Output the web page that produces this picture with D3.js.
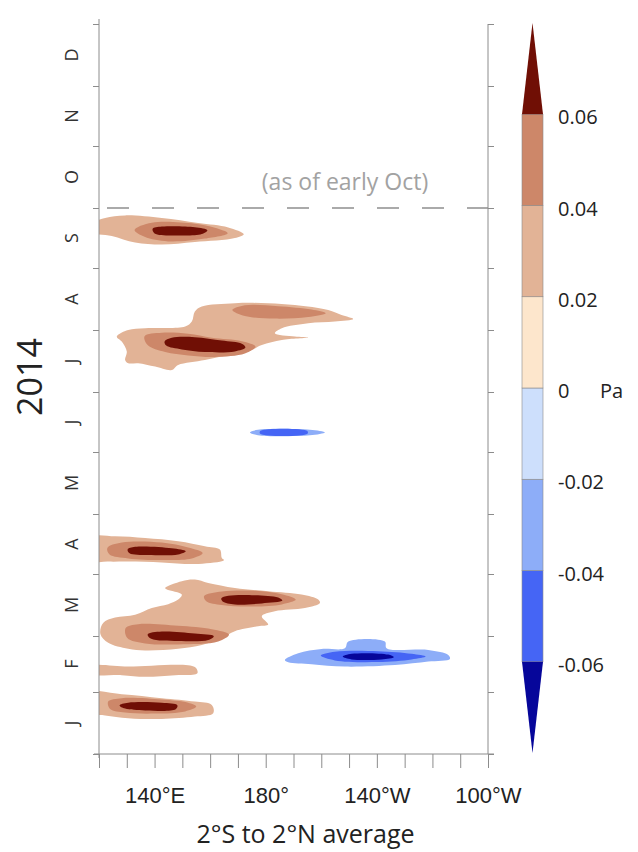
<!DOCTYPE html>
<html>
<head>
<meta charset="utf-8">
<script src="https://cdn.jsdelivr.net/npm/d3@7"></script>
<style>
  body { margin: 0; background: #fff; }
  svg { display: block; font-family: "Open Sans", "Noto Sans", sans-serif; }
</style>
</head>
<body>
<svg id="chart" width="638" height="852"></svg>
<script>
// months shown up the left side, longitudes along the bottom (degrees east)
var monthNames = ["J", "F", "M", "A", "M", "J", "J", "A", "S", "O", "N", "D"];
var lonTicks = d3.range(120, 261, 10);
var lonNames = {140: "140°E", 180: "180°", 220: "140°W", 260: "100°W"};

// colour bar: contour levels (Pa) and the colour of each interval
var levels = [-0.06, -0.04, -0.02, 0, 0.02, 0.04, 0.06];
var levelColors = ["#06069a", "#4565f5", "#8dadf8", "#cddffc",
                   "#fde6cc", "#e2b396", "#cd8769", "#700f05"];

// wind stress anomaly contours, points are [longitude °E, day of 2014]
var janBurst = [
  {level: 0.02, pts: [[116, 30.6], [128.2, 29.9], [142.6, 27.9], [154.5, 26.2], [160.6, 24.5], [161.1, 20.4], [154.5, 18.7], [142.6, 17.5], [130.5, 17.9], [122.2, 19.3], [116, 20.6]]},
  {level: 0.04, pts: [[123.3, 26.2], [128.2, 27.9], [142.6, 27.2], [152.1, 25.6], [155, 23.7], [151, 21.3], [140.2, 20.2], [129.4, 20.7], [124, 22.5]]},
  {level: 0.06, pts: [[127.4, 24.3], [130.5, 25.6], [142.6, 25.6], [148.2, 24.4], [147.6, 22.4], [136.6, 21.8], [129.4, 22.7]]}
];
var febStrip = [
  {level: 0.02, pts: [[116, 43.8], [130.5, 43.8], [154.5, 43.5], [155.4, 40.4], [147.4, 39.4], [136.6, 38.6], [128.2, 39.4], [116, 40.2]]}
];
var febMarBurst = [
  {level: 0.02, pts: [[143.8, 83], [149.8, 86.4], [154.5, 87.2], [159.3, 85.5], [168.9, 83], [180.9, 81.4], [192.9, 79.7], [198.9, 77.2], [199.5, 75.5], [194.1, 73], [183.3, 71.4], [178.6, 68.9], [180.9, 64.7], [177.3, 63.9], [168.9, 61.4], [164.2, 58], [157, 54.5], [148.5, 52.6], [136.6, 51.8], [130.5, 52.6], [123.3, 55.6], [120.5, 60], [121.5, 65.5], [125.8, 68.2], [133, 69.6], [139, 73], [144.9, 74.9], [148.5, 77.2], [149.8, 79.7], [144.4, 82.2]]},
  {level: 0.04, pts: [[157.8, 78.9], [164.2, 81.2], [176.1, 81.6], [185.8, 79.9], [190.8, 77.2], [185.8, 74.8], [173.7, 73.7], [164.2, 74.5], [158.6, 76.4]]},
  {level: 0.04, pts: [[129.6, 63], [134.1, 64.9], [148.5, 64.1], [160.6, 62.4], [166.8, 59.7], [162.9, 56.2], [148.5, 54.8], [136.6, 55.3], [130.2, 58]]},
  {level: 0.06, pts: [[164, 77.8], [166.5, 79.1], [176.1, 79.4], [184.5, 78.2], [186, 76.7], [178.6, 75.3], [168.9, 74.8], [164.5, 76.3]]},
  {level: 0.06, pts: [[137.5, 59.8], [142.6, 61.2], [154.5, 60.2], [161.3, 58.9], [159.3, 57], [148.5, 56.5], [138.8, 57.6]]}
];
var aprBurst = [
  {level: 0.02, pts: [[116, 108.2], [125.8, 108.9], [136.6, 108], [148.5, 106.4], [158.1, 103.9], [163.5, 102.2], [164.2, 98], [165, 97], [164.2, 96.4], [154.5, 95], [142.6, 95.8], [130.5, 96.2], [123.3, 96.2], [116, 96.8]]},
  {level: 0.04, pts: [[123, 103], [128.2, 105.7], [142.6, 105.7], [152.1, 103.2], [157.3, 100.5], [153.4, 97.8], [142.6, 97], [130.5, 97.8], [123.8, 99.7]]},
  {level: 0.06, pts: [[130.3, 102.3], [133, 103.6], [146.2, 102.9], [151.2, 101.4], [148.5, 99.8], [137.7, 99.5], [131, 100.4]]}
];
var junBurst = [
  {level: 0.02, pts: [[126.4, 208.7], [130.5, 212], [136.6, 212.9], [151, 213.7], [153.4, 216.2], [154.5, 221.2], [157, 223.7], [168.9, 225.4], [180.9, 225.4], [190.5, 224.5], [202.5, 222], [207.3, 219.5], [211.5, 217.5], [204.9, 216.2], [195.3, 215.4], [185.8, 212.9], [183.3, 210.4], [190.5, 208.7], [195.3, 208.2], [185.8, 207], [178.6, 204.5], [173.7, 201.2], [166.5, 199.5], [158.1, 197], [148.5, 194.5], [146.2, 192], [140.2, 193.7], [134.1, 195.4], [130.5, 195.4], [129.4, 197], [130, 201.2], [128.2, 206.2]]},
  {level: 0.04, pts: [[136.4, 208.9], [142.6, 210.6], [152.1, 210.1], [160.6, 208.1], [171.4, 206.4], [176.3, 203.7], [172.5, 200.2], [161.7, 198.5], [152.1, 199.3], [143.8, 201], [137.5, 204.5]]},
  {level: 0.04, pts: [[168, 222], [172.5, 224.4], [184.5, 223.9], [196.5, 222.2], [201.6, 220.4], [195.3, 218.5], [183.3, 217.7], [172.5, 219]]},
  {level: 0.06, pts: [[143.6, 206.3], [146.2, 208.1], [154.5, 208.4], [164.2, 206.7], [171.4, 205.1], [172.7, 203.2], [168.9, 201.3], [158.1, 201], [149.8, 202.3], [144.2, 204.2]]}
];
var sepBurst = [
  {level: 0.02, pts: [[117, 264.8], [122.2, 268], [129.4, 269.3], [142.6, 268], [155.7, 265.5], [166.5, 263.3], [172.1, 259.9], [168.9, 258], [154.5, 256], [142.6, 254.7], [133, 255.7], [124.6, 259], [117, 261]]},
  {level: 0.04, pts: [[132.8, 262], [139, 265.6], [154.5, 265.1], [161.7, 263.1], [166.3, 260.4], [158.1, 257.7], [144.9, 256.3], [136.4, 258.6]]},
  {level: 0.06, pts: [[139.3, 262.6], [142.6, 263.7], [154.5, 263.4], [159, 261.9], [157, 260], [148.5, 259.3], [140, 260.3]]}
];
var febBlue = [
  {level: -0.02, pts: [[186.9, 47], [191.7, 50.4], [200.1, 52.5], [208.5, 52.9], [209.7, 56.2], [222.9, 56.2], [223.5, 52.9], [238.5, 52], [245.7, 49.5], [246.3, 47.5], [238.5, 46.2], [226.5, 44.5], [208.5, 43.7], [196.5, 44.9], [188.1, 45.9]]},
  {level: -0.04, pts: [[199.8, 49.2], [204.9, 51.1], [220.5, 51.4], [232.5, 50.1], [237.6, 48.7], [232.5, 47.3], [220.5, 46], [204.9, 46.8]]},
  {level: -0.06, pts: [[207.7, 48.7], [210.9, 50.1], [224.1, 49.7], [226.1, 48.4], [221.7, 47.3], [210.9, 47.3]]}
];
var junBlue = [
  {level: -0.02, pts: [[174.3, 160.8], [177.2, 162.1], [195.9, 162.1], [201.3, 160.8], [195.9, 159.4], [177.2, 159.4]]},
  {level: -0.04, pts: [[178, 161.5], [195, 161.5], [195, 160.1], [178, 160.1]]}
];

var svg = d3.select("#chart"),
    margin = {top: 24, right: 150, bottom: 98, left: 99},
    width = +svg.attr("width"),
    height = +svg.attr("height");

var start = Date.UTC(2014, 0, 1);
function day(d) { return new Date(start + d * 864e5); }

var x = d3.scaleLinear()
    .domain([120, 260])
    .range([margin.left, width - margin.right]);

var y = d3.scaleUtc()
    .domain([day(0), day(365)])
    .range([height - margin.bottom, margin.top]);

var fill = d3.scaleThreshold()
    .domain(levels)
    .range(levelColors);

// colour for the area inside a contour
function contourColor(lev) {
    return fill(lev > 0 ? lev + 0.001 : lev - 0.001);
}

var x0 = x.range()[0], x1 = x.range()[1],
    yTop = y.range()[1], yBot = y.range()[0];

svg.append("clipPath").attr("id", "plotclip")
  .append("rect")
    .attr("x", x0).attr("y", yTop)
    .attr("width", x1 - x0).attr("height", yBot - yTop);

var shapes = [].concat(janBurst, febStrip, febMarBurst, aprBurst, junBurst, sepBurst, febBlue, junBlue);
shapes.sort(function(a, b) { return Math.abs(a.level) - Math.abs(b.level); });

var area = d3.line()
    .x(function(d) { return x(d[0]); })
    .y(function(d) { return y(day(d[1])); })
    .curve(d3.curveCatmullRomClosed.alpha(0.5));

svg.append("g")
    .attr("clip-path", "url(#plotclip)")
  .selectAll("path")
  .data(shapes)
  .enter().append("path")
    .attr("d", function(d) { return area(d.pts); })
    .attr("fill", function(d) { return contourColor(d.level); });

// dashed line where the data stop
svg.append("line")
    .attr("x1", x0).attr("x2", x1)
    .attr("y1", y(day(273))).attr("y2", y(day(273)))
    .attr("stroke", "#8f8f8f")
    .attr("stroke-width", 1.5)
    .attr("stroke-dasharray", "22,23")
    .attr("stroke-dashoffset", 37);

svg.append("text")
    .attr("x", 345).attr("y", 190)
    .attr("text-anchor", "middle")
    .attr("font-size", 23)
    .attr("fill", "#a2a2a2")
    .text("(as of early Oct)");

// axes
var monthStarts = d3.utcMonth.range(day(0), day(366));
var axisColor = "#8c8c8c";

var leftAxis = svg.append("g")
    .attr("transform", "translate(" + x0 + ",0)")
    .call(d3.axisLeft(y).tickValues(monthStarts).tickSize(6).tickSizeOuter(0).tickFormat(""));
leftAxis.select(".domain").remove();

var rightAxis = svg.append("g")
    .attr("transform", "translate(" + x1 + ",0)")
    .call(d3.axisRight(y).tickValues(monthStarts).tickSize(6).tickSizeOuter(0).tickFormat(""));
rightAxis.select(".domain").remove();

var bottomAxis = svg.append("g")
    .attr("transform", "translate(0," + yBot + ")")
    .call(d3.axisBottom(x).tickValues(lonTicks).tickSize(14).tickPadding(19).tickSizeOuter(0)
          .tickFormat(function(d) { return lonNames[d] || ""; }));
bottomAxis.select(".domain").remove();
bottomAxis.selectAll("text").attr("font-size", 22).attr("fill", "#222").attr("font-family", null);

svg.selectAll(".tick line").attr("stroke", axisColor);

svg.append("line").attr("x1", x0).attr("x2", x0).attr("y1", yTop - 5).attr("y2", yBot + 4).attr("stroke", axisColor);
svg.append("line").attr("x1", x1).attr("x2", x1).attr("y1", yTop).attr("y2", yBot).attr("stroke", axisColor);
svg.append("line").attr("x1", x0 - 5).attr("x2", x1 + 6).attr("y1", yBot).attr("y2", yBot).attr("stroke", axisColor);

svg.append("g")
  .selectAll("text")
  .data(monthNames)
  .enter().append("text")
    .attr("transform", function(d, i) {
        var mid = new Date((+monthStarts[i] + +monthStarts[i + 1]) / 2);
        return "translate(72," + y(mid) + ") rotate(-90)";
    })
    .attr("text-anchor", "middle")
    .attr("dy", "0.35em")
    .attr("font-size", 18)
    .attr("fill", "#333")
    .text(function(d) { return d; });

svg.append("text")
    .attr("transform", "translate(30," + 377 + ") rotate(-90)")
    .attr("text-anchor", "middle")
    .attr("dy", "0.35em")
    .attr("font-size", 34)
    .attr("fill", "#222")
    .text("2014");

svg.append("text")
    .attr("x", (x0 + x1) / 2 + 12).attr("y", 843)
    .attr("text-anchor", "middle")
    .attr("font-size", 25)
    .attr("fill", "#222")
    .text("2°S to 2°N average");

// colour bar
var cb = d3.scaleLinear().domain([-0.08, 0.08]).range([753, 23]);
var cbx = 522, cbw = 21;
var bar = svg.append("g");

bar.selectAll("rect")
  .data(d3.pairs(levels))
  .enter().append("rect")
    .attr("x", cbx)
    .attr("y", function(d) { return cb(d[1]); })
    .attr("width", cbw)
    .attr("height", function(d) { return cb(d[0]) - cb(d[1]); })
    .attr("fill", function(d) { return fill((d[0] + d[1]) / 2); })
    .attr("stroke", "#8a8a8a")
    .attr("stroke-width", 0.6);

var hiLev = levels[levels.length - 1], loLev = levels[0];
bar.append("path")
    .attr("d", "M" + cbx + "," + cb(hiLev) + "L" + (cbx + cbw / 2) + "," + cb(hiLev + 0.02) + "L" + (cbx + cbw) + "," + cb(hiLev) + "Z")
    .attr("fill", fill(hiLev + 0.01));
bar.append("path")
    .attr("d", "M" + cbx + "," + cb(loLev) + "L" + (cbx + cbw / 2) + "," + cb(loLev - 0.02) + "L" + (cbx + cbw) + "," + cb(loLev) + "Z")
    .attr("fill", fill(loLev - 0.01));

bar.selectAll("text")
  .data(levels)
  .enter().append("text")
    .attr("x", 558)
    .attr("y", function(d) { return cb(d) + 3; })
    .attr("dy", "0.35em")
    .attr("font-size", 20)
    .attr("fill", "#222")
    .text(function(d) { return d === 0 ? "0" : d3.format(".2f")(d).replace("−", "-"); });

bar.append("text")
    .attr("x", 600)
    .attr("y", cb(0) + 3)
    .attr("dy", "0.35em")
    .attr("font-size", 20)
    .attr("fill", "#222")
    .text("Pa");
</script>
</body>
</html>
